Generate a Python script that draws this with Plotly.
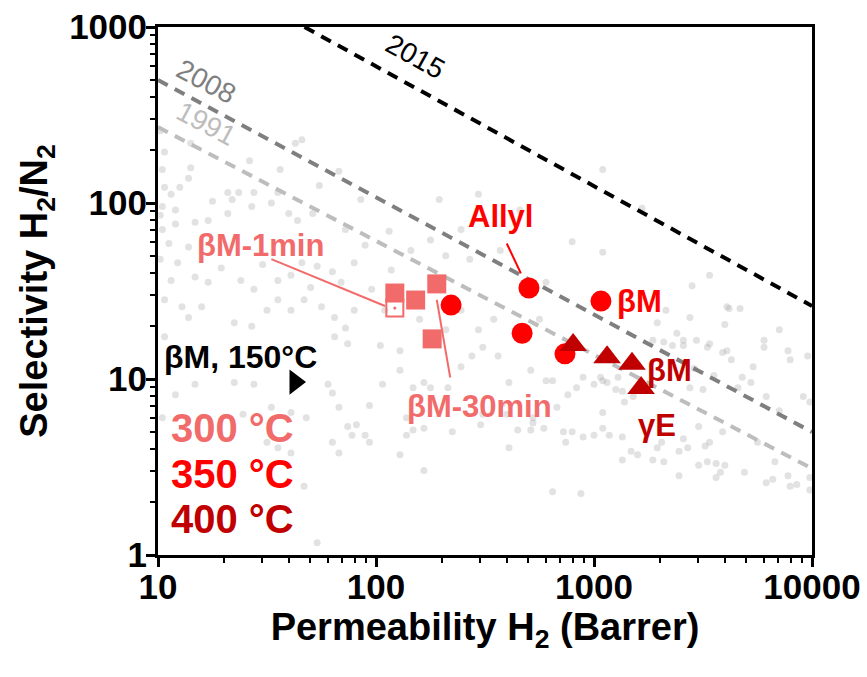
import numpy as np
import plotly.graph_objects as go

# ---------------- data ----------------
# literature data (log10 permeability, log10 selectivity), read off the background cloud
lit_log10_perm = [
 1.02,1.08,1.17,1.23,1.32,1.43,1.52,1.60,1.64,1.71,1.14,1.09,1.17,1.23,1.29,1.38,1.44,1.48,1.55,1.61,
 1.66,1.70,1.73,1.80,1.84,1.90,1.11,1.20,1.35,1.43,1.50,1.55,1.61,1.67,1.75,1.81,1.86,1.90,1.03,1.14,
 1.81,1.87,
 1.08,1.17,1.35,1.44,1.52,1.39,1.61,1.68,1.78,1.80,1.83,1.87,1.91,1.89,1.95,1.97,1.80,1.83,1.61,1.50,
 1.55,1.67,1.73,1.02,
 2.03,2.17,2.22,2.25,2.33,2.61,2.81,2.92,2.14,2.17,2.22,2.14,2.35,2.48,2.60,2.71,2.77,2.72,2.83,2.88,
 2.90,2.95,2.87,2.61,2.11,2.22,2.81,2.94,1.97,
 3.33,3.44,3.60,3.62,3.67,3.85,3.29,3.38,3.32,3.36,3.41,3.47,3.52,3.61,3.59,3.63,3.78,3.78,3.89,3.90,
 3.98,3.73,3.46,3.55,3.44,3.50,3.68,3.66,3.72,3.79,3.85,3.96,3.99,3.04,3.00,3.10,3.13,3.14,3.04,3.04,
 3.00,3.07,3.13,3.41,3.48,3.31,3.43,3.51,3.53,3.59,3.29,3.17,3.20,3.13,3.27,3.32,3.39,3.48,3.52,3.56,
 3.60,3.58,3.56,3.39,3.69,3.75,3.83,3.89,3.79,3.82,3.90,3.93,3.99,3.99,3.11,
 3.04,3.22,2.90,3.04,3.53,3.45,3.61,
 1.03,1.15,1.14,1.15,1.03,1.10,1.06,1.32,1.37,1.34,1.44,1.63,1.66,1.83,1.55,1.25,
 2.78,2.54,2.47,2.49,2.44,2.39,2.56,2.71,2.78,2.95,3.03,3.06,3.18,3.22,3.27,3.53,3.41,2.65,2.49,2.58,
 2.72,2.86,
 2.06,2.16,2.25,2.32,2.39,2.07,2.20,2.11,2.02,2.32,2.11,2.04,2.39,1.95,1.98,2.43,2.57,2.66,2.47,2.29,
 1.93,1.86,2.75,
 1.01,1.02,1.05,1.01,1.06,1.03,1.08,1.01,1.02,1.74,1.56,1.42,
]
lit_log10_sel = [
 1.98,1.96,1.89,1.90,1.94,1.98,2.00,1.94,1.90,1.94,1.75,1.66,1.58,1.55,1.63,1.56,1.51,1.65,1.56,1.59,
 1.66,1.52,1.64,1.61,1.55,1.66,1.41,1.41,1.32,1.30,1.39,1.45,1.39,1.45,1.41,1.35,1.29,1.39,1.24,1.35,
 1.24,1.20,
 0.91,0.97,0.98,0.97,0.84,0.80,0.81,0.78,0.97,0.92,0.84,0.73,0.74,0.68,0.68,0.85,0.64,0.58,0.58,0.64,
 0.61,0.39,0.07,0.78,
 0.97,0.95,0.98,0.95,0.95,0.98,0.99,0.95,0.78,0.71,0.72,0.68,0.70,0.74,0.80,0.71,0.72,0.78,0.84,0.91,
 0.70,0.67,0.64,0.61,0.57,0.48,0.36,0.35,0.64,
 1.39,1.35,1.31,1.40,1.40,1.28,1.32,1.26,1.21,1.19,1.19,1.22,1.18,1.16,1.15,1.11,1.22,1.18,1.16,1.11,
 1.13,1.07,1.06,1.02,0.95,0.94,1.01,0.95,0.98,0.90,0.82,0.90,0.87,0.99,0.97,0.94,0.93,0.87,0.81,0.72,
 0.68,0.68,0.67,0.66,0.73,0.64,0.61,0.62,0.64,0.70,0.61,0.59,0.57,0.54,0.54,0.53,0.59,0.51,0.53,0.52,
 0.51,0.47,0.44,0.45,0.47,0.64,0.53,0.45,0.41,0.43,0.39,0.40,0.44,0.37,1.01,
 2.19,1.97,1.78,1.72,1.59,1.53,1.41,
 2.29,2.34,2.14,2.20,2.09,2.09,2.05,2.06,2.06,2.02,2.06,2.34,2.36,2.18,2.06,2.01,
 1.55,1.34,1.28,1.18,1.13,1.07,1.13,1.05,0.99,1.01,1.01,0.98,0.90,0.98,1.22,1.20,1.22,0.71,0.80,0.86,
 0.75,0.70,
 1.84,1.73,1.79,1.70,1.85,1.62,1.34,1.16,1.19,1.28,1.05,1.39,1.39,1.76,1.51,1.68,1.73,1.96,2.05,2.02,
 2.02,1.85,1.34,
 1.93,1.85,1.77,1.68,1.56,1.45,1.88,2.41,2.19,2.10,2.19,2.24,
]

# upper bounds (endpoints at P = 10 and P = 10000 or where the line leaves the frame)
bound_names = ["1991", "2008", "2015"]
bound_perm = [[10, 10000], [10, 10000], [47, 10000]]
bound_sel = [[270, 3.1], [500, 5.0], [1000, 26]]

# this work
perm_300 = [122, 152, 190, 181]
sel_300 = [30.8, 28.1, 34.7, 16.9]
perm_300_1min = [122]
sel_300_1min = [25.3]
perm_350 = [221, 503, 468, 1076, 736]
sel_350 = [26.3, 32.9, 18.2, 27.7, 13.9]
perm_400 = [802, 1148, 1494, 1644]
sel_400 = [15.6, 13.3, 12.2, 8.9]
perm_150 = [42.5]
sel_150 = [9.6]

# leader lines for the labels
lead_1min_perm = [33.1, 110]
lead_1min_sel = [48, 26]
lead_30min_perm = [190, 219]
lead_30min_sel = [28.2, 10.2]
lead_allyl_perm = [398, 462]
lead_allyl_sel = [58.9, 39.8]

x_ticks = [10, 100, 1000, 10000]
y_ticks = [1, 10, 100, 1000]

C300 = "#F26B6B"
C350 = "#FF0000"
C400 = "#C00000"
FONT = "Liberation Sans, Arial, sans-serif"

fig = go.Figure()

fig.add_trace(go.Scatter(
    x=np.power(10.0, lit_log10_perm), y=np.power(10.0, lit_log10_sel), mode="markers",
    marker=dict(size=7, color="rgb(150,150,150)", opacity=0.28, line=dict(width=0)),
    hoverinfo="skip", showlegend=False))

bound_colors = ["#BDBDBD", "#7F7F7F", "#000000"]
for name, bx, by, col in zip(bound_names, bound_perm, bound_sel, bound_colors):
    fig.add_trace(go.Scatter(x=bx, y=by, mode="lines", name=name,
                             line=dict(color=col, width=4, dash="11px,8px"),
                             showlegend=False, hoverinfo="skip"))

for lx, ly, col in [(lead_1min_perm, lead_1min_sel, C300),
                    (lead_30min_perm, lead_30min_sel, C300),
                    (lead_allyl_perm, lead_allyl_sel, C350)]:
    fig.add_trace(go.Scatter(x=lx, y=ly, mode="lines", line=dict(color=col, width=2),
                             showlegend=False, hoverinfo="skip"))

fig.add_trace(go.Scatter(x=perm_300, y=sel_300, mode="markers", showlegend=False,
                         marker=dict(symbol="square", size=19, color=C300, line=dict(width=0))))
fig.add_trace(go.Scatter(x=perm_300_1min, y=sel_300_1min, mode="markers", showlegend=False,
                         marker=dict(symbol="square-open-dot", size=17, color=C300,
                                     line=dict(width=2, color=C300))))
fig.add_trace(go.Scatter(x=perm_350, y=sel_350, mode="markers", showlegend=False,
                         marker=dict(symbol="circle", size=21, color=C350, line=dict(width=0))))
fig.add_trace(go.Scatter(x=perm_400, y=sel_400, mode="markers", showlegend=False,
                         marker=dict(symbol="triangle-up", size=24, color=C400, line=dict(width=0))))
fig.add_trace(go.Scatter(x=perm_150, y=sel_150, mode="markers", showlegend=False,
                         marker=dict(symbol="triangle-right", size=22, color="black", line=dict(width=0))))

ann = []
def label(text, lx, ly, color, size, bold=True, angle=0, xanchor="center"):
    ann.append(dict(x=lx, y=ly, xref="x", yref="y", text=f"<b>{text}</b>" if bold else text,
                    showarrow=False, textangle=angle, xanchor=xanchor, yanchor="middle",
                    font=dict(family=FONT, size=size, color=color)))

label("2015", 2.18, 2.83, "#000000", 28, bold=False, angle=29)
label("2008", 1.22, 2.69, "#7F7F7F", 28, bold=False, angle=28)
label("1991", 1.22, 2.45, "#BDBDBD", 28, bold=False, angle=28)
label("βM-1min", 1.47, 1.756, C300, 31)
label("βM-30min", 2.477, 0.845, C300, 31)
label("Allyl", 2.569, 1.926, C350, 31)
label("βM", 3.21, 1.44, C350, 31)
label("βM", 3.345, 1.05, C400, 31)
label("γE", 3.29, 0.733, C400, 31)
label("βM, 150°C", 1.02, 1.125, "#000000", 32, xanchor="left")
label("300 °C", 1.05, 0.722, C300, 40, xanchor="left")
label("350 °C", 1.05, 0.46, C350, 40, xanchor="left")
label("400 °C", 1.05, 0.205, C400, 40, xanchor="left")

minor_x = [m * d for d in (10, 100, 1000) for m in range(2, 10)]
minor_y = [m * d for d in (1, 10, 100) for m in range(2, 10)]

axis_common = dict(type="log", showgrid=False, zeroline=False, showline=True, linecolor="black",
                   linewidth=3, mirror=True, ticks="outside", ticklen=9, tickwidth=2.5,
                   tickcolor="black", automargin=False,
                   tickfont=dict(family=FONT, size=35, color="black", weight="bold"))

fig.update_xaxes(**axis_common, range=[1, 4], tickmode="array", tickvals=x_ticks,
                 ticktext=[str(v) for v in x_ticks], ticklabelstandoff=-10,
                 minor=dict(tickmode="array", tickvals=minor_x, ticks="outside", ticklen=5,
                            tickwidth=2, tickcolor="black", showgrid=False),
                 title=dict(text="<b>Permeability H<sub>2</sub> (Barrer)</b>", standoff=4,
                            font=dict(family=FONT, size=38, color="black")))
fig.update_yaxes(**axis_common, range=[0, 3], tickmode="array", tickvals=y_ticks,
                 ticktext=[str(v) for v in y_ticks], ticklabelstandoff=-8,
                 minor=dict(tickmode="array", tickvals=minor_y, ticks="outside", ticklen=5,
                            tickwidth=2, tickcolor="black", showgrid=False),
                 title=dict(text="<b>Selectivity H<sub>2</sub>/N<sub>2</sub></b>", standoff=10,
                            font=dict(family=FONT, size=38, color="black")))

fig.update_layout(width=867, height=677, margin=dict(l=158, r=55, t=27, b=122),
                  plot_bgcolor="white", paper_bgcolor="white", annotations=ann,
                  showlegend=False)

fig.write_html("out.html", config={"displayModeBar": False},
               post_script="document.body.style.margin='0';")
